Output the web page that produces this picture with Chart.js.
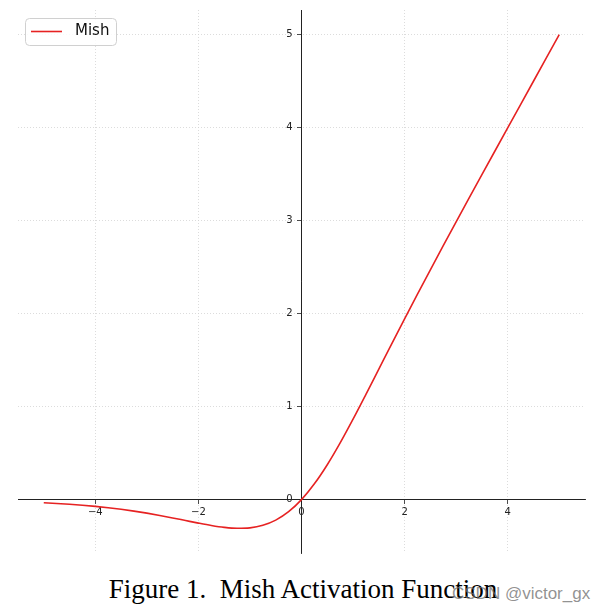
<!DOCTYPE html>
<html>
<head>
<meta charset="utf-8">
<script src="https://cdn.jsdelivr.net/npm/chart.js@4"></script>
<style>
  body { margin: 0; background: #fff; width: 606px; height: 612px; position: relative; overflow: hidden; }
  #wrap { position: absolute; left: 0; top: 0; width: 606px; height: 560px; }
  #caption { position: absolute; left: 0; width: 606px; top: 574px; text-align: center;
             font-family: "Liberation Serif", serif; font-size: 27px; color: #000; }
  #mark { position: absolute; left: 452px; top: 584px; font-family: "Liberation Sans", sans-serif;
          font-size: 17px; color: rgba(110,110,110,0.75); }
</style>
</head>
<body>
<div id="wrap"><canvas id="mygraph"></canvas></div>
<div id="caption">Figure 1.&nbsp; Mish Activation Function</div>
<div id="mark">CSDN @victor_gx</div>
<script>
const xs = [-5, -4.75, -4.5, -4.25, -4, -3.75, -3.5, -3.25, -3, -2.75, -2.5, -2.25, -2, -1.75, -1.5, -1.25,
  -1, -0.75, -0.5, -0.25, 0, 0.25, 0.5, 0.75, 1, 1.25, 1.5, 1.75, 2, 2.25, 2.5, 2.75, 3, 3.25, 3.5, 3.75,
  4, 4.25, 4.5, 4.75, 5]
const mish = [-0.0336, -0.0409, -0.0497, -0.0602, -0.0726, -0.0872, -0.1041, -0.1236, -0.1456, -0.1702,
  -0.1968, -0.2247, -0.2525, -0.2780, -0.2981, -0.3084, -0.3034, -0.2765, -0.2207, -0.1299, 0, 0.1696,
  0.3753, 0.6100, 0.8651, 1.1319, 1.4034, 1.6749, 1.9440, 2.2095, 2.4714, 2.7302, 2.9865, 3.2410,
  3.4940, 3.7460, 3.9974, 4.2483, 4.4989, 4.7493, 4.9996]
const xTicks = [-4, -2, 0, 2, 4]
const yTicks = [0, 1, 2, 3, 4, 5]

const tickFont = { family: 'DejaVu Sans', size: 10 }

let zeroSize = (scale) => {
  scale.width = scale.isHorizontal() ? scale.width : 0
  scale.height = scale.isHorizontal() ? 0 : scale.height
  scale.paddingLeft = 0; scale.paddingRight = 0; scale.paddingTop = 0; scale.paddingBottom = 0
}

let legendBox = {
  id: 'legendBox',
  afterDraw(chart) {
    const ctx = chart.ctx
    const ds = chart.data.datasets[0]
    ctx.save()
    ctx.beginPath()
    ctx.roundRect(25.5, 18.5, 91, 27, 4)
    ctx.fillStyle = 'rgba(255,255,255,0.85)'
    ctx.fill()
    ctx.strokeStyle = '#d0d0d0'
    ctx.lineWidth = 1
    ctx.stroke()
    ctx.beginPath()
    ctx.moveTo(31, 31.5)
    ctx.lineTo(62, 31.5)
    ctx.strokeStyle = ds.borderColor
    ctx.lineWidth = 1.6
    ctx.stroke()
    ctx.fillStyle = '#111'
    ctx.font = '15px "DejaVu Sans"'
    ctx.textBaseline = 'middle'
    ctx.fillText(ds.label, 75, 31.5)
    ctx.restore()
  }
}

const ctx = document.getElementById('mygraph').getContext('2d')
new Chart(ctx, {
  type: 'line',
  data: {
    datasets: [{
      label: 'Mish',
      data: xs.map((x, i) => ({ x: x, y: mish[i] })),
      borderColor: '#e62222',
      borderWidth: 1.6,
      pointRadius: 0,
      fill: false,
      cubicInterpolationMode: 'monotone'
    }]
  },
  options: {
    responsive: true,
    maintainAspectRatio: false,
    animation: false,
    layout: { padding: { left: 18, right: 21, top: 10, bottom: 7 } },
    plugins: { legend: { display: false }, tooltip: { enabled: false } },
    scales: {
      x: {
        type: 'linear',
        position: { y: 0 },
        min: -5.5,
        max: 5.5,
        afterBuildTicks: (scale) => { scale.ticks = xTicks.map(v => ({ value: v })) },
        afterFit: zeroSize,
        ticks: {
          font: tickFont, color: '#222', padding: 3, maxRotation: 0,
          callback: (v) => String(v).replace('-', '\u2212')
        },
        grid: { color: '#d3d3d3', lineWidth: 0.8, tickLength: 4, tickColor: '#222', tickWidth: 0.8 },
        border: { color: '#222', width: 1, dash: [1, 2] }
      },
      y: {
        type: 'linear',
        position: { x: 0 },
        min: -0.574,
        max: 5.265,
        afterBuildTicks: (scale) => { scale.ticks = yTicks.map(v => ({ value: v })) },
        afterFit: zeroSize,
        // centred axis draws labels flush with the line, so pad them with trailing spaces
        ticks: { font: tickFont, color: '#222', callback: (v) => v + '\u2002\u2009\u2009' },
        grid: { color: '#d3d3d3', lineWidth: 0.8, tickLength: 4, tickColor: '#222', tickWidth: 0.8 },
        border: { color: '#222', width: 1, dash: [1, 2] }
      }
    }
  },
  plugins: [legendBox]
})
</script>
</body>
</html>
